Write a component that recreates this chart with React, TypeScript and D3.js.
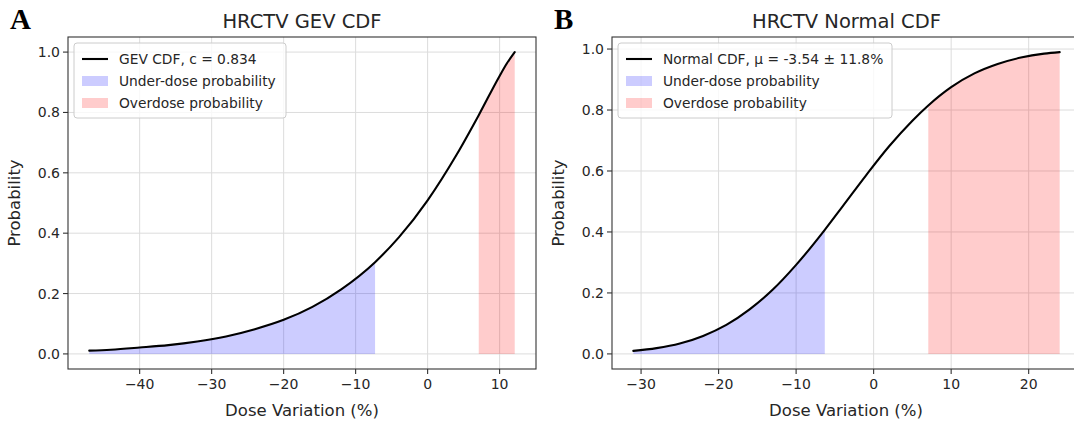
import React from "react";
import * as d3 from "d3";

// ---- Data ----
// Panel A: GEV CDF
const gevX = [-47, -44, -40, -36, -32, -28, -24, -20, -16, -12, -7.3, -4, 0, 4, 7.1, 10, 11, 12.1];
const gevY = [0.011, 0.014, 0.021, 0.029, 0.041, 0.058, 0.082, 0.113, 0.156, 0.214, 0.304, 0.386, 0.509, 0.659, 0.791, 0.921, 0.962, 1.0];
const gevUnder = -7.3;
const gevOver = 7.1;
const gevLabel = "GEV CDF, c = 0.834";

// Panel B: Normal CDF
const normX = [-31, -28, -25, -22, -19, -16, -13, -10, -6.3, -4, -1, 2, 5, 7.05, 10, 13, 16, 19, 22, 24];
const normY = [0.01, 0.019, 0.034, 0.059, 0.095, 0.146, 0.211, 0.292, 0.407, 0.484, 0.585, 0.681, 0.765, 0.815, 0.875, 0.92, 0.951, 0.972, 0.985, 0.99];
const normUnder = -6.3;
const normOver = 7.05;
const normLabel = "Normal CDF, μ = -3.54 ± 11.8%";

const gevXTicks = [-40, -30, -20, -10, 0, 10];
const normXTicks = [-30, -20, -10, 0, 10, 20];
const yTicks = [0.0, 0.2, 0.4, 0.6, 0.8, 1.0];

const titles = ["HRCTV GEV CDF", "HRCTV Normal CDF"];
const panelLetters = ["A", "B"];
const xLabel = "Dose Variation (%)";
const yLabel = "Probability";
const legendUnder = "Under-dose probability";
const legendOver = "Overdose probability";

const FONT = "'DejaVu Sans', sans-serif";
const TEXT = "#262626";

type PanelProps = {
  xs: number[];
  ys: number[];
  under: number;
  over: number;
  xTicks: number[];
  title: string;
  letter: string;
  legend: string;
  left: number;
  right: number;
  legendW: number;
  labelCenter: number;
};

function Panel({ xs, ys, under, over, xTicks, title, letter, legend, left, right, legendW, labelCenter }: PanelProps) {
  const top = 37;
  const bottom = 369;
  const xmin = d3.min(xs)!;
  const xmax = d3.max(xs)!;
  const xm = (xmax - xmin) * 0.05;
  const ymin = Math.min(0, d3.min(ys)!);
  const ymax = d3.max(ys)!;
  const ym = (ymax - ymin) * 0.05;
  const x = d3.scaleLinear().domain([xmin - xm, xmax + xm]).range([left, right]);
  const y = d3.scaleLinear().domain([ymin - ym, ymax + ym]).range([bottom, top]);

  const pts = xs.map((v, i) => [v, ys[i]] as [number, number]);
  const line = d3
    .line<[number, number]>()
    .x((d) => x(d[0]))
    .y((d) => y(d[1]))
    .curve(d3.curveMonotoneX);
  const area = d3
    .area<[number, number]>()
    .x((d) => x(d[0]))
    .y0(() => y(0))
    .y1((d) => y(d[1]))
    .curve(d3.curveMonotoneX);
  const underPts = pts.filter((d) => d[0] <= under + 1e-9);
  const overPts = pts.filter((d) => d[0] >= over - 1e-9);

  const gridColor = "#dcdcdc";
  const lx = left + 6;
  const ly = top + 6;
  const legendH = 75;
  const fs = 14;
  const lfs = 13.8;

  return (
    <g>
      <defs>
        <clipPath id={`clip-${letter}`}>
          <rect x={left} y={top} width={right - left} height={bottom - top} />
        </clipPath>
      </defs>
      <g clipPath={`url(#clip-${letter})`}>
        {xTicks.map((t) => (
          <line key={"gx" + t} x1={x(t)} x2={x(t)} y1={top} y2={bottom} stroke={gridColor} strokeWidth={1} />
        ))}
        {yTicks.map((t) => (
          <line key={"gy" + t} x1={left} x2={right} y1={y(t)} y2={y(t)} stroke={gridColor} strokeWidth={1} />
        ))}
        <path d={area(underPts) || ""} fill="blue" fillOpacity={0.2} />
        <path d={area(overPts) || ""} fill="red" fillOpacity={0.2} />
        <path d={line(pts) || ""} fill="none" stroke="#000" strokeWidth={2.1} strokeLinecap="round" />
      </g>
      <rect x={left} y={top} width={right - left} height={bottom - top} fill="none" stroke="#333" strokeWidth={1.1} />
      {xTicks.map((t) => (
        <g key={"xt" + t}>
          <line x1={x(t)} x2={x(t)} y1={bottom} y2={bottom + 5} stroke="#333" strokeWidth={1.1} />
          <text x={x(t)} y={bottom + 20} textAnchor="middle" fontFamily={FONT} fontSize={fs} fill={TEXT}>
            {t < 0 ? "\u2212" + Math.abs(t) : String(t)}
          </text>
        </g>
      ))}
      {yTicks.map((t) => (
        <g key={"yt" + t}>
          <line x1={left - 5} x2={left} y1={y(t)} y2={y(t)} stroke="#333" strokeWidth={1.1} />
          <text x={left - 8} y={y(t)} dy="0.36em" textAnchor="end" fontFamily={FONT} fontSize={fs} fill={TEXT}>
            {t.toFixed(1)}
          </text>
        </g>
      ))}
      <text x={labelCenter} y={416} textAnchor="middle" fontFamily={FONT} fontSize={16.5} fill={TEXT}>
        {xLabel}
      </text>
      <text
        transform={`translate(${left - 48},${(top + bottom) / 2}) rotate(-90)`}
        textAnchor="middle"
        fontFamily={FONT}
        fontSize={16.5}
        fill={TEXT}
      >
        {yLabel}
      </text>
      <text x={(left + right) / 2} y={28} textAnchor="middle" fontFamily={FONT} fontSize={19.5} fill={TEXT}>
        {title}
      </text>
      <text x={left - 58} y={29} fontFamily="'Liberation Serif', 'Times New Roman', serif" fontWeight="bold" fontSize={29} fill="#000">
        {letter}
      </text>
      <rect x={lx} y={ly} width={legendW} height={legendH} rx={3} fill="#fff" fillOpacity={0.8} stroke="#cccccc" strokeWidth={1} />
      <line x1={lx + 8} x2={lx + 34} y1={ly + 16} y2={ly + 16} stroke="#000" strokeWidth={2.1} />
      <rect x={lx + 8} y={ly + 33} width={26} height={10} fill="blue" fillOpacity={0.2} />
      <rect x={lx + 8} y={ly + 55} width={26} height={10} fill="red" fillOpacity={0.2} />
      <text x={lx + 45} y={ly + 16} dy="0.36em" fontFamily={FONT} fontSize={lfs} fill={TEXT}>
        {legend}
      </text>
      <text x={lx + 45} y={ly + 38} dy="0.36em" fontFamily={FONT} fontSize={lfs} fill={TEXT}>
        {legendUnder}
      </text>
      <text x={lx + 45} y={ly + 60} dy="0.36em" fontFamily={FONT} fontSize={lfs} fill={TEXT}>
        {legendOver}
      </text>
    </g>
  );
}

export default function App() {
  return (
    <svg
      width={1074}
      height={423}
      style={{ position: "absolute", left: 0, top: 0, background: "#fff" }}
    >
      <rect x={0} y={0} width={1074} height={423} fill="#fff" />
      <Panel
        xs={gevX}
        ys={gevY}
        under={gevUnder}
        over={gevOver}
        xTicks={gevXTicks}
        title={titles[0]}
        letter={panelLetters[0]}
        legend={gevLabel}
        left={68}
        right={536}
        legendW={212}
        labelCenter={302}
      />
      <Panel
        xs={normX}
        ys={normY}
        under={normUnder}
        over={normOver}
        xTicks={normXTicks}
        title={titles[1]}
        letter={panelLetters[1]}
        legend={normLabel}
        left={612}
        right={1081}
        legendW={274}
        labelCenter={846}
      />
    </svg>
  );
}
